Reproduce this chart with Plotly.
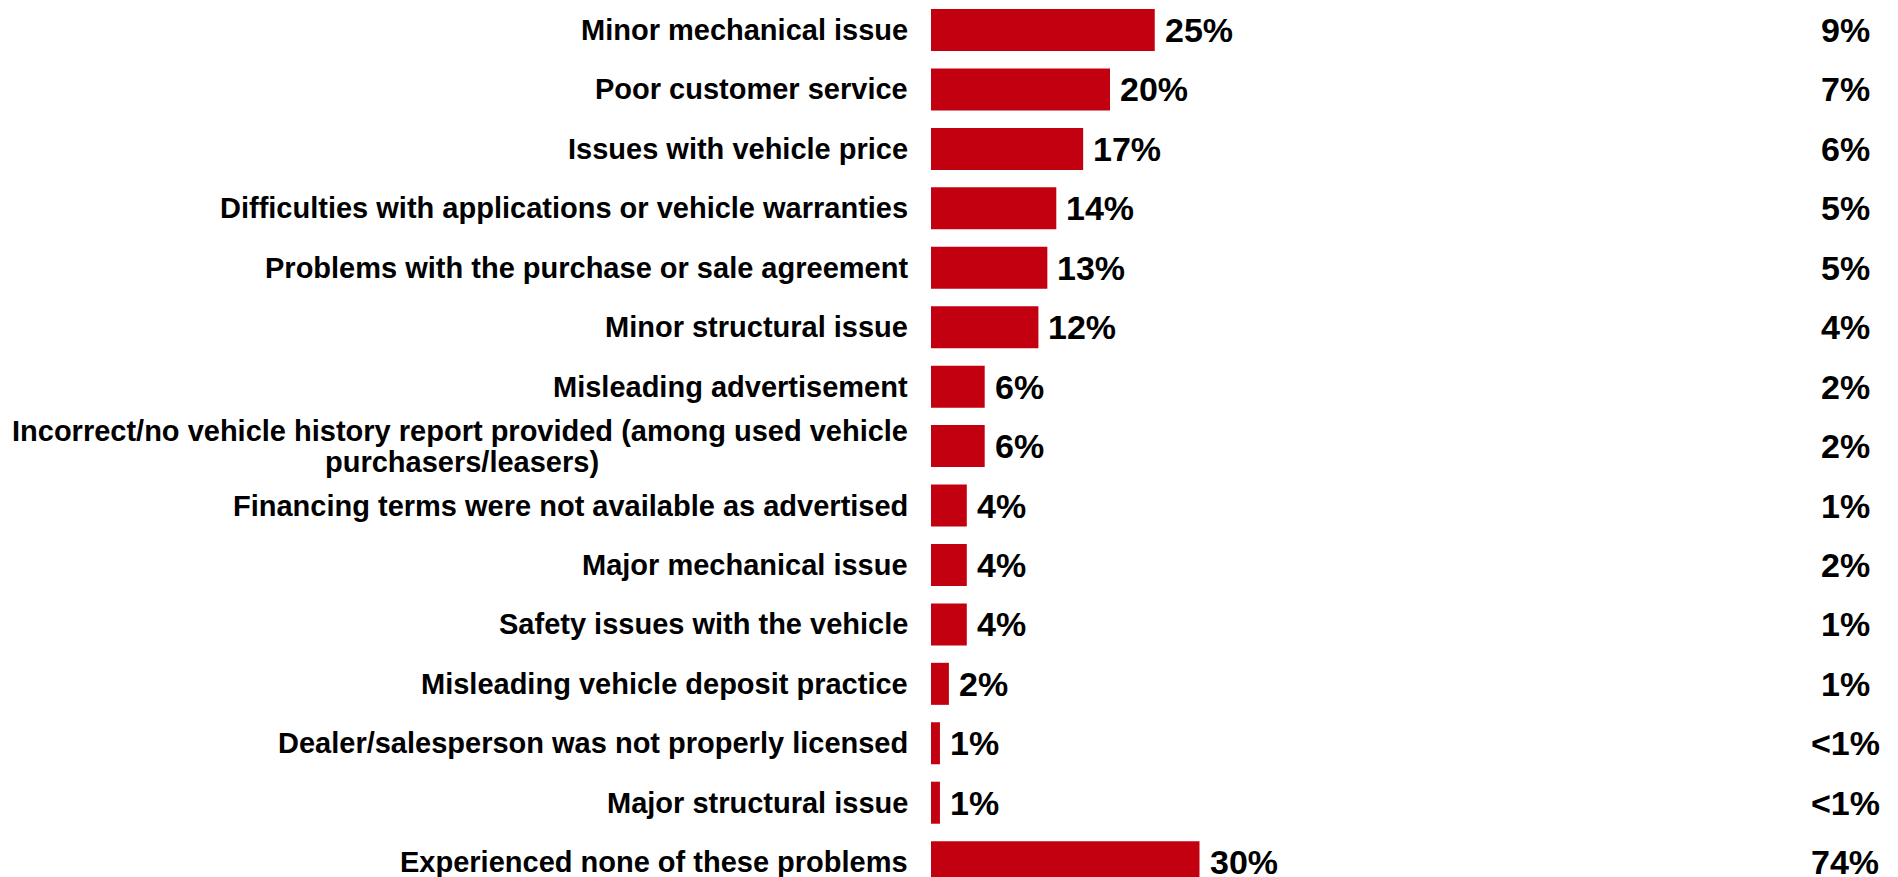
import plotly.graph_objects as go

categories = [
    "Minor mechanical issue",
    "Poor customer service",
    "Issues with vehicle price",
    "Difficulties with applications or vehicle warranties",
    "Problems with the purchase or sale agreement",
    "Minor structural issue",
    "Misleading advertisement",
    "Incorrect/no vehicle history report provided (among used vehicle<br>purchasers/leasers)",
    "Financing terms were not available as advertised",
    "Major mechanical issue",
    "Safety issues with the vehicle",
    "Misleading vehicle deposit practice",
    "Dealer/salesperson was not properly licensed",
    "Major structural issue",
    "Experienced none of these problems",
]
values = [25, 20, 17, 14, 13, 12, 6, 6, 4, 4, 4, 2, 1, 1, 30]
right_labels = ["9%", "7%", "6%", "5%", "5%", "4%", "2%", "2%", "1%", "2%",
                "1%", "1%", "<1%", "<1%", "74%"]

W, H = 1898, 877
FONT = "Arial, 'Liberation Sans', sans-serif"
RED = "#C3000F"
bar_left = 931
px_per_pct = 8.95

lab_font = dict(family=FONT, size=29, color="black", weight="bold")
val_font = dict(family=FONT, size=34, color="black", weight="bold")

fig = go.Figure()
fig.add_trace(go.Bar(
    x=values, y=list(range(len(categories))), orientation="h",
    marker=dict(color=RED, line=dict(width=0)),
    hoverinfo="skip",
))

annotations = []
label_right = 910 / W
for i, (cat, v, r) in enumerate(zip(categories, values, right_labels)):
    if "<br>" in cat:
        l1, l2 = cat.split("<br>")
        annotations.append(dict(x=label_right, xref="paper", y=i, yref="y", text=l1,
                                xanchor="right", yanchor="middle", showarrow=False,
                                yshift=15, font=lab_font))
        annotations.append(dict(x=462 / W, xref="paper", y=i, yref="y", text=l2,
                                xanchor="center", yanchor="middle", showarrow=False,
                                yshift=-16, font=lab_font))
    else:
        annotations.append(dict(x=label_right, xref="paper", y=i, yref="y", text=cat,
                                xanchor="right", yanchor="middle", showarrow=False,
                                font=lab_font))
    annotations.append(dict(x=v, xref="x", y=i, yref="y", text=f"{v}%",
                            xanchor="left", yanchor="middle", showarrow=False, xshift=8,
                            font=val_font))
    annotations.append(dict(x=1845 / W, xref="paper", y=i, yref="y", text=r,
                            xanchor="center", yanchor="middle", showarrow=False,
                            font=val_font))

fig.update_layout(
    width=W, height=H,
    margin=dict(l=0, r=0, t=0, b=0),
    paper_bgcolor="white", plot_bgcolor="white",
    showlegend=False,
    bargap=0.293,
    xaxis=dict(domain=[bar_left / W, 1], range=[0, (W - bar_left) / px_per_pct],
               visible=False, fixedrange=True),
    yaxis=dict(range=[14.25, -0.505], visible=False, fixedrange=True),
    annotations=annotations,
    font=dict(family=FONT, color="black"),
)

fig.write_html("out.html", config={"displayModeBar": False},
               post_script="document.body.style.margin='0';document.body.style.overflow='hidden';")
